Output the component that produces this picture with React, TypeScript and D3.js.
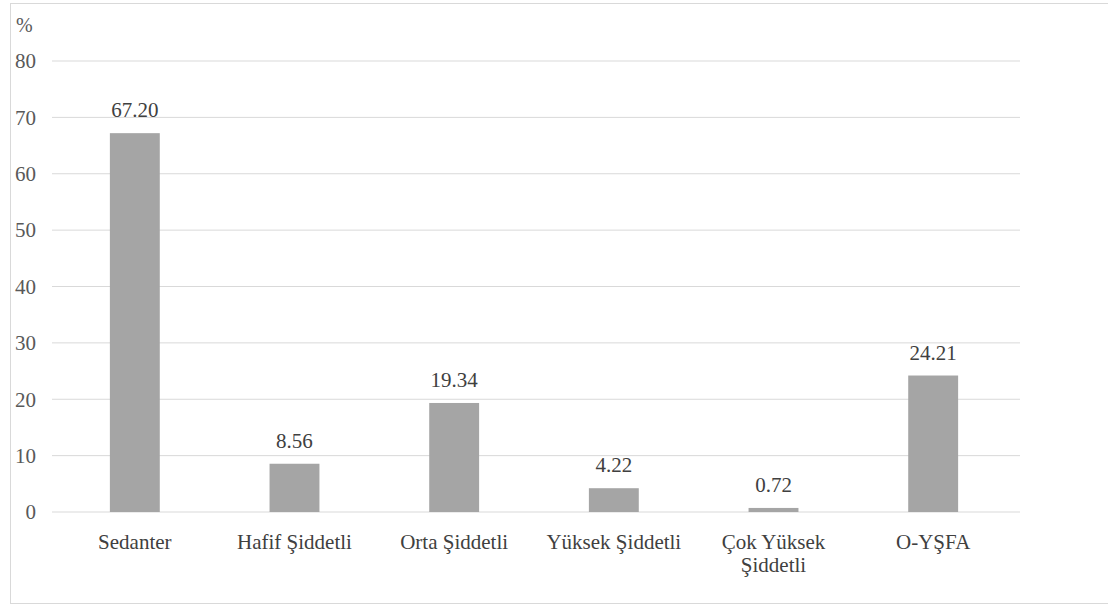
import * as d3 from "d3";

const categories = ["Sedanter", "Hafif Şiddetli", "Orta Şiddetli", "Yüksek Şiddetli", "Çok Yüksek\nŞiddetli", "O-YŞFA"];
const values = [67.2, 8.56, 19.34, 4.22, 0.72, 24.21];
const yTicks = [0, 10, 20, 30, 40, 50, 60, 70, 80];

export default function App() {
  const width = 1108;
  const height = 608;
  const left = 52;
  const right = 1020;
  const top = 61;
  const bottom = 512;

  // bands 160px wide, bars 50px
  const x = d3.scaleBand<string>().domain(categories).range([54, 1014]).paddingInner(0.6875).paddingOuter(0.35);
  const y = d3.scaleLinear().domain([0, 80]).range([bottom, top]);
  const txt = { fontFamily: "Liberation Serif" };

  return (
    <svg width={width} height={height} fontFamily="Liberation Serif" style={{ position: "absolute", left: 0, top: 0 }}>
      <rect x={10.5} y={3.5} width={1110} height={600} fill="#fff" stroke="#d9d9d9" />
      <text x={16} y={32} fontSize={20} fill="#595959" style={txt}>%</text>
      {yTicks.map((t) => (
        <g key={t}>
          <line x1={left} x2={right} y1={y(t)} y2={y(t)} stroke="#d9d9d9" strokeWidth={1} />
          <text x={36} y={y(t)} dy="0.35em" textAnchor="end" fontSize={21} fill="#595959" style={txt}>{t}</text>
        </g>
      ))}
      {categories.map((c, i) => (
        <g key={c}>
          <rect x={x(c)} y={y(values[i])} width={x.bandwidth()} height={bottom - y(values[i])} fill="#a5a5a5" />
          <text x={x(c)! + x.bandwidth() / 2} y={y(values[i]) - 16} textAnchor="middle" fontSize={21} fill="#404040" style={txt}>
            {values[i].toFixed(2)}
          </text>
          <text x={x(c)! + x.bandwidth() / 2} y={549} textAnchor="middle" fontSize={21} fill="#404040" style={txt}>
            {c.split("\n").map((line, j) => (
              <tspan key={j} x={x(c)! + x.bandwidth() / 2} dy={j === 0 ? 0 : 23}>{line}</tspan>
            ))}
          </text>
        </g>
      ))}
    </svg>
  );
}
